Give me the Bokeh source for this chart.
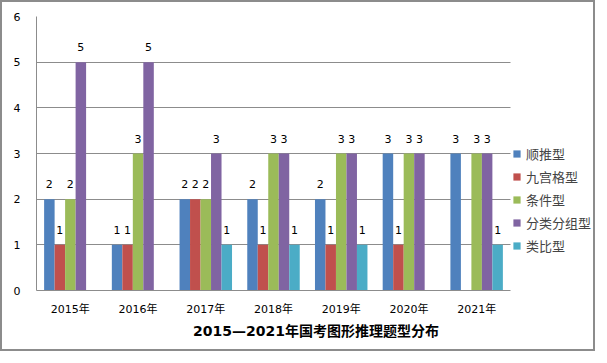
from bokeh.plotting import figure
from bokeh.models import ColumnDataSource, Legend, LegendItem, FixedTicker, Range1d, Title
from bokeh.core.properties import value
from bokeh.embed import file_html
from bokeh.resources import INLINE

years = ["2015年", "2016年", "2017年", "2018年", "2019年", "2020年", "2021年"]
series_names = ["顺推型", "九宫格型", "条件型", "分类分组型", "类比型"]
shuntui = [2, 1, 2, 2, 2, 3, 3]
jiugongge = [1, 1, 2, 1, 1, 1, 0]
tiaojian = [2, 3, 2, 3, 3, 3, 3]
fenlei = [5, 5, 3, 3, 3, 3, 3]
leibi = [0, 0, 1, 1, 1, 0, 1]
y_ticks = [0, 1, 2, 3, 4, 5, 6]
title_text = "2015—2021年国考图形推理题型分布"

series_values = [shuntui, jiugongge, tiaojian, fenlei, leibi]
colors = ["#4F81BD", "#C0504D", "#9BBB59", "#8064A2", "#4BACC6"]
GRID = "#8c8c8c"
FONT = "'DejaVu Sans', 'Noto Sans CJK SC'"

W, H = 595, 351
ML, MR, MT, MB = 34, 2, 14, 63
frame_w = W - ML - MR
cat_px = 474 / len(years)
x_end = -0.5 + frame_w / cat_px
n = len(years)

p = figure(width=W, height=H, output_backend="svg", toolbar_location=None,
           x_range=Range1d(-0.5, x_end), y_range=Range1d(0, 6),
           min_border_left=ML, min_border_right=MR, min_border_top=MT, min_border_bottom=MB)
p.styles = {"border": "2px solid #8c8c8c"}
p.outline_line_color = None
p.background_fill_color = "white"
p.border_fill_color = "white"

bw = 0.155
items = []
for i, (name, vals) in enumerate(zip(series_names, series_values)):
    xs = [j + (i - 2) * bw for j, v in enumerate(vals) if v > 0]
    ys = [v for v in vals if v > 0]
    src = ColumnDataSource(dict(x=xs, top=ys, lab=[str(v) for v in ys]))
    r = p.vbar(x="x", top="top", width=bw, source=src, fill_color=colors[i], line_color=None)
    p.text(x="x", y="top", text="lab", source=src, text_align="center", text_baseline="middle",
           y_offset=-15, text_font=value(FONT), text_font_size="11px", text_color="black")
    items.append(LegendItem(label=name, renderers=[r]))

legend = Legend(items=items, location=(476, 35), padding=0, margin=0, spacing=3,
                glyph_width=9, glyph_height=9, label_height=20, label_standoff=5,
                label_text_font=FONT, label_text_font_size="13px",
                border_line_color=None, background_fill_alpha=0)
p.add_layout(legend, "center")

p.xaxis.ticker = FixedTicker(ticks=list(range(n)))
p.xaxis.major_label_overrides = {i: y for i, y in enumerate(years)}
p.xaxis.bounds = (-0.5, n - 0.5)
p.yaxis.ticker = FixedTicker(ticks=y_ticks)
for ax in (p.xaxis, p.yaxis):
    ax.major_tick_line_color = None
    ax.minor_tick_line_color = None
    ax.major_label_text_font = FONT
    ax.major_label_text_font_size = "11px"
    ax.major_label_text_color = "black"
    ax.axis_line_color = GRID
p.xaxis.major_label_standoff = 6
p.yaxis.major_label_standoff = 10
p.xgrid.grid_line_color = None

yg = p.ygrid[0]
yg.grid_line_color = GRID
yg.grid_line_width = 1
yg.ticker = FixedTicker(ticks=y_ticks)
if "cross_bounds" in yg.properties():
    yg.cross_bounds = (-0.5, n - 0.5)

title = Title(text=title_text, align="center", offset=-38, standoff=4,
              text_font=FONT, text_font_size="14px", text_font_style="bold",
              text_color="black")
p.add_layout(title, "below")

open("out.html", "w").write(file_html(p, INLINE))
